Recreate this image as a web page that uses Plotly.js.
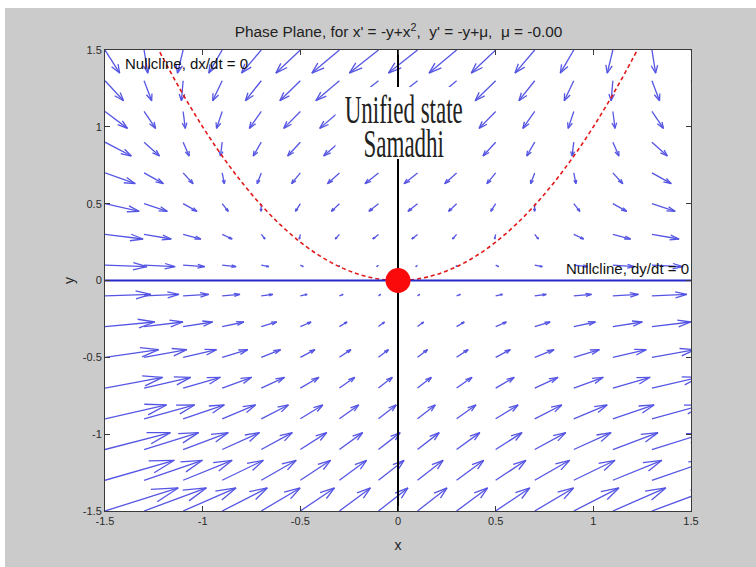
<!DOCTYPE html>
<html>
<head>
<meta charset="utf-8">
<script src="https://cdn.plot.ly/plotly-3.0.1.min.js"></script>
<style>
  html, body { margin: 0; padding: 0; background: #ffffff; width: 756px; height: 567px; overflow: hidden; }
  #chart { position: absolute; left: 5px; top: 8px; width: 751px; height: 559px; }
</style>
</head>
<body>
<div id="chart"></div>
<script>
// ---- Data ----
const gridX = [-1.5,-1.3,-1.1,-0.9,-0.7,-0.5,-0.3,-0.1,0.1,0.3,0.5,0.7,0.9,1.1,1.3,1.5];
const gridY = [-1.5,-1.3,-1.1,-0.9,-0.7,-0.5,-0.3,-0.1,0.1,0.3,0.5,0.7,0.9,1.1,1.3,1.5];
// x-component of the field, one row per gridY value
const fieldU = [
  [3.75,3.19,2.71,2.31,1.99,1.75,1.59,1.51,1.51,1.59,1.75,1.99,2.31,2.71,3.19,3.75],
  [3.55,2.99,2.51,2.11,1.79,1.55,1.39,1.31,1.31,1.39,1.55,1.79,2.11,2.51,2.99,3.55],
  [3.35,2.79,2.31,1.91,1.59,1.35,1.19,1.11,1.11,1.19,1.35,1.59,1.91,2.31,2.79,3.35],
  [3.15,2.59,2.11,1.71,1.39,1.15,0.99,0.91,0.91,0.99,1.15,1.39,1.71,2.11,2.59,3.15],
  [2.95,2.39,1.91,1.51,1.19,0.95,0.79,0.71,0.71,0.79,0.95,1.19,1.51,1.91,2.39,2.95],
  [2.75,2.19,1.71,1.31,0.99,0.75,0.59,0.51,0.51,0.59,0.75,0.99,1.31,1.71,2.19,2.75],
  [2.55,1.99,1.51,1.11,0.79,0.55,0.39,0.31,0.31,0.39,0.55,0.79,1.11,1.51,1.99,2.55],
  [2.35,1.79,1.31,0.91,0.59,0.35,0.19,0.11,0.11,0.19,0.35,0.59,0.91,1.31,1.79,2.35],
  [2.15,1.59,1.11,0.71,0.39,0.15,-0.01,-0.09,-0.09,-0.01,0.15,0.39,0.71,1.11,1.59,2.15],
  [1.95,1.39,0.91,0.51,0.19,-0.05,-0.21,-0.29,-0.29,-0.21,-0.05,0.19,0.51,0.91,1.39,1.95],
  [1.75,1.19,0.71,0.31,-0.01,-0.25,-0.41,-0.49,-0.49,-0.41,-0.25,-0.01,0.31,0.71,1.19,1.75],
  [1.55,0.99,0.51,0.11,-0.21,-0.45,-0.61,-0.69,-0.69,-0.61,-0.45,-0.21,0.11,0.51,0.99,1.55],
  [1.35,0.79,0.31,-0.09,-0.41,-0.65,-0.81,-0.89,-0.89,-0.81,-0.65,-0.41,-0.09,0.31,0.79,1.35],
  [1.15,0.59,0.11,-0.29,-0.61,-0.85,-1.01,-1.09,-1.09,-1.01,-0.85,-0.61,-0.29,0.11,0.59,1.15],
  [0.95,0.39,-0.09,-0.49,-0.81,-1.05,-1.21,-1.29,-1.29,-1.21,-1.05,-0.81,-0.49,-0.09,0.39,0.95],
  [0.75,0.19,-0.29,-0.69,-1.01,-1.25,-1.41,-1.49,-1.49,-1.41,-1.25,-1.01,-0.69,-0.29,0.19,0.75]
];
// y-component of the field, one value per gridY row
const fieldV = [1.5,1.3,1.1,0.9,0.7,0.5,0.3,0.1,-0.1,-0.3,-0.5,-0.7,-0.9,-1.1,-1.3,-1.5];

// Nullcline dx/dt = 0 (red dashed curve)
const nullXcurveX = [-1.3,-1.2,-1.1,-1.0,-0.9,-0.8,-0.7,-0.6,-0.5,-0.4,-0.3,-0.2,-0.1,0,0.1,0.2,0.3,0.4,0.5,0.6,0.7,0.8,0.9,1.0,1.1,1.2,1.3];
const nullXcurveY = [1.69,1.44,1.21,1.0,0.81,0.64,0.49,0.36,0.25,0.16,0.09,0.04,0.01,0,0.01,0.04,0.09,0.16,0.25,0.36,0.49,0.64,0.81,1.0,1.21,1.44,1.69];
// Nullcline dy/dt = 0 (blue horizontal line)
const nullYlineX = [-1.5, 1.5];
const nullYlineY = [0, 0];
// Vertical black line
const vertLineX = [0, 0];
const vertLineY = [-1.5, 1.5];
// Equilibrium point
const eqX = [0];
const eqY = [0];

// Ticks
const tickVals = [-1.5,-1,-0.5,0,0.5,1,1.5];
const tickText = ['-1.5','-1','-0.5','0','0.5','1','1.5'];

// ---- Build quiver segments (MATLAB-style arrows) ----
const QSCALE = 0.1, ALPHA = 0.33, BETA = 0.33, EPS = 1e-12;
const qx = [], qy = [];
for (let i = 0; i < gridY.length; i++) {
  for (let j = 0; j < gridX.length; j++) {
    const x = gridX[j], y = gridY[i];
    const u = fieldU[i][j] * QSCALE, v = fieldV[i] * QSCALE;
    qx.push(x, x + u, null);
    qy.push(y, y + v, null);
    qx.push(x + u - ALPHA * (u + BETA * (v + EPS)), x + u, x + u - ALPHA * (u - BETA * (v + EPS)), null);
    qy.push(y + v - ALPHA * (v - BETA * (u + EPS)), y + v, y + v - ALPHA * (v + BETA * (u + EPS)), null);
  }
}

const traces = [
  { x: qx, y: qy, type: 'scatter', mode: 'lines',
    line: { color: 'rgb(85,85,228)', width: 1.3 }, hoverinfo: 'skip', showlegend: false },
  { x: nullXcurveX, y: nullXcurveY, type: 'scatter', mode: 'lines',
    line: { color: 'rgb(225,25,25)', width: 1.6, dash: '4px,3px', shape: 'spline' }, hoverinfo: 'skip', showlegend: false },
  { x: nullYlineX, y: nullYlineY, type: 'scatter', mode: 'lines',
    line: { color: 'rgb(40,40,200)', width: 2.2 }, hoverinfo: 'skip', showlegend: false },
  { x: vertLineX, y: vertLineY, type: 'scatter', mode: 'lines',
    line: { color: '#000000', width: 2 }, hoverinfo: 'skip', showlegend: false },
  { x: eqX, y: eqY, type: 'scatter', mode: 'markers',
    marker: { color: 'rgb(250,10,10)', size: 25, line: { width: 0 } }, hoverinfo: 'skip', showlegend: false }
];

const axisCommon = {
  range: [-1.5, 1.5], autorange: false, showgrid: false, zeroline: false,
  showline: true, mirror: 'ticks', linecolor: '#3a3a3a', linewidth: 1,
  ticks: 'inside', ticklen: 5, tickcolor: '#3a3a3a', tickwidth: 1,
  tickmode: 'array', tickvals: tickVals, ticktext: tickText,
  tickfont: { family: 'Liberation Sans, Arial, sans-serif', size: 11, color: '#2a2a2a' }
};

const sansFont = 'Liberation Sans, Arial, sans-serif';
const layout = {
  width: 751, height: 559,
  paper_bgcolor: '#cbcbcb', plot_bgcolor: '#ffffff',
  margin: { l: 100, r: 65, t: 42, b: 56, pad: 0 },
  title: { text: "Phase Plane, for x' = -y+x<sup>2</sup>,\u00a0 y' = -y+\u03bc,\u00a0 \u03bc = -0.00",
           font: { family: sansFont, size: 15.4, color: '#222222' },
           x: 0.524, xanchor: 'center', y: 0.957, yanchor: 'middle' },
  xaxis: Object.assign({}, axisCommon, {
    title: { text: 'x', font: { family: sansFont, size: 14, color: '#222222' }, standoff: 13 }
  }),
  yaxis: Object.assign({}, axisCommon, {
    title: { text: 'y', font: { family: sansFont, size: 14, color: '#222222' }, standoff: 4 }
  }),
  shapes: [
    { type: 'rect', xref: 'x', yref: 'y', x0: -0.32, x1: 0.35, y0: 0.79, y1: 1.26,
      fillcolor: '#ffffff', line: { width: 0 }, layer: 'above' }
  ],
  annotations: [
    { x: -1.41, y: 1.415, xref: 'x', yref: 'y', text: 'Nullcline, dx/dt = 0', showarrow: false,
      xanchor: 'left', yanchor: 'middle', font: { family: sansFont, size: 15, color: '#111111' } },
    { x: 0.85, y: 0.08, xref: 'x', yref: 'y', text: 'Nullcline, dy/dt = 0', showarrow: false,
      xanchor: 'left', yanchor: 'middle', font: { family: sansFont, size: 15, color: '#111111' } },
    { x: 0.03, y: 1.273, xref: 'x', yref: 'y', text: 'Unified state<br>Samadhi', showarrow: false,
      xanchor: 'center', yanchor: 'top', align: 'center',
      font: { family: 'Liberation Serif, Times New Roman, serif', size: 40, color: '#222222' } }
  ],
  showlegend: false
};

Plotly.newPlot('chart', traces, layout, { staticPlot: true, displayModeBar: false }).then(function (gd) {
  // Condense the serif overlay text horizontally and tighten its line gap, as in the reference
  gd.querySelectorAll('text.annotation-text').forEach(function (t) {
    const s = t.textContent;
    if (s.indexOf('Unified state') === 0) {
      const lines = t.querySelectorAll('tspan.line');
      if (lines.length > 1) {
        lines[1].setAttribute('dy', '0.8625em');
      }
      const bb = t.getBBox();
      const cx = bb.x + bb.width / 2;
      const prev = t.getAttribute('transform') || '';
      t.setAttribute('transform', prev + ' translate(' + cx + ',0) scale(0.575,1) translate(' + (-cx) + ',0)');
    }
  });
});
</script>
</body>
</html>
